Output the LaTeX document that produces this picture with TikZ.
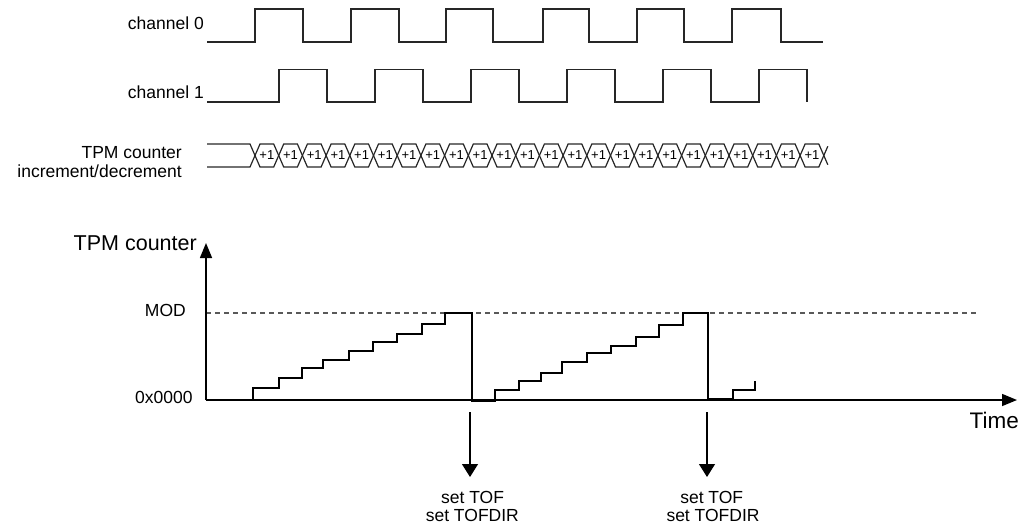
\documentclass[tikz,border=0pt]{standalone}
\usepackage{fontspec}
\setmainfont{Liberation Sans}
\usetikzlibrary{arrows.meta}
\begin{document}
\begin{tikzpicture}[x=1pt,y=-1pt,
  lbl/.style={font=\fontsize{17.5}{20}\selectfont, inner sep=0pt},
  biglbl/.style={font=\fontsize{21.5}{24}\selectfont, inner sep=0pt},
  cell/.style={font=\fontsize{13}{14}\selectfont, inner sep=0pt},
  wave/.style={line width=1.2pt, black!85},
  stair/.style={line width=2.7pt, black, line join=miter},
  axis/.style={line width=1.5pt, black, -{Triangle[length=15pt,width=12pt]}},
  flag/.style={line width=1.2pt, black, -{Triangle[length=13pt,width=16pt]}},
  modline/.style={line width=1.1pt, black!65, dash pattern=on 5pt off 4pt}]
\useasboundingbox (0,0) rectangle (1024,525);

% labels
\node[lbl, anchor=base east] (ch0) at (204,29.5) {channel 0};
\node[lbl, anchor=base east] (ch1) at (204,98) {channel 1};
\node[lbl, anchor=base east] (bus1) at (182,158) {TPM counter};
\node[lbl, anchor=base east] (bus2) at (182,177) {increment/decrement};

% channel 0
\draw[wave] (207,42) -- (255,42) -- (255,9) -- (303,9) -- (303,42) -- (351,42) -- (351,9)
  -- (399,9) -- (399,42) -- (446,42) -- (446,9) -- (493,9) -- (493,42) -- (543,42) -- (543,9)
  -- (589,9) -- (589,42) -- (637,42) -- (637,9) -- (684,9) -- (684,42) -- (732,42) -- (732,9)
  -- (781,9) -- (781,42) -- (823,42);
% channel 1
\draw[wave] (207,102) -- (279,102) -- (279,69.5) -- (327,69.5) -- (327,102) -- (375,102) -- (375,69.5)
  -- (423,69.5) -- (423,102) -- (471,102) -- (471,69.5) -- (519,69.5) -- (519,102) -- (567,102) -- (567,69.5)
  -- (615,69.5) -- (615,102) -- (663,102) -- (663,69.5) -- (711,69.5) -- (711,102) -- (759,102) -- (759,69.5)
  -- (807,69.5) -- (807,102);

% counter bus
\draw[wave] (207,144) -- (250,144) -- (255,155.5) -- (250,167) -- (207,167);
\foreach \k in {0,...,23} {
  \pgfmathsetmacro\ca{255+23.7*\k}
  \pgfmathsetmacro\cb{255+23.7*(\k+1)}
  \draw[wave] (\ca,155.5) -- (\ca+5,144) -- (\cb-5,144) -- (\cb,155.5) -- (\cb-5,167) -- (\ca+5,167) -- cycle;
  \node[cell] (c\k) at ({(\ca+\cb)/2},155.5) {+1};
}
\pgfmathsetmacro\cz{255+23.7*24}
\draw[wave] (\cz,155.5) -- (\cz+4,146.3) (\cz,155.5) -- (\cz+4,164.7);

% counter chart
\coordinate (org) at (206,400);
\coordinate (ytip) at (206,243);
\coordinate (xtip) at (1017,400);
\node[biglbl, anchor=base east] (ylab) at (197,250) {TPM counter};
\node[lbl, anchor=base east] (mod) at (186,316.7) {MOD};
\node[lbl, anchor=base east] (zero) at (192.7,403) {0x0000};
\node[font=\fontsize{22.5}{24}\selectfont, inner sep=0pt, anchor=base east] (time) at (1019,428) {Time};

\draw[modline] (206,313) -- (979,313);
\draw[axis] (org) -- (ytip);
\draw[axis] (org) -- (xtip);

\draw[stair] (206,400) -- (253,400) -- (253,388) -- (279,388) -- (279,378) -- (302,378) -- (302,368)
  -- (323,368) -- (323,360) -- (349,360) -- (349,351) -- (373,351) -- (373,342) -- (397,342)
  -- (397,334) -- (422,334) -- (422,324) -- (445,324) -- (445,313) -- (472,313) -- (472,401)
  -- (495,401) -- (495,390) -- (519,390) -- (519,381) -- (541,381) -- (541,373) -- (562,373)
  -- (562,362) -- (587,362) -- (587,353) -- (611,353) -- (611,346) -- (636,346) -- (636,337)
  -- (659,337) -- (659,325) -- (683,325) -- (683,313) -- (708,313) -- (708,399) -- (733,399)
  -- (733,390) -- (755,390) -- (755,381);

% flags
\coordinate (f1s) at (470,412);
\coordinate (f1e) at (470,477);
\coordinate (f2s) at (707,412);
\coordinate (f2e) at (707,477);
\draw[flag] (f1s) -- (f1e);
\draw[flag] (f2s) -- (f2e);
\node[lbl, anchor=base] (t1a) at (472.5,503.3) {set TOF};
\node[lbl, anchor=base] (t1b) at (472.3,521.7) {set TOFDIR};
\node[lbl, anchor=base] (t2a) at (711.7,503.3) {set TOF};
\node[lbl, anchor=base] (t2b) at (713,521.7) {set TOFDIR};
\end{tikzpicture}
\end{document}
